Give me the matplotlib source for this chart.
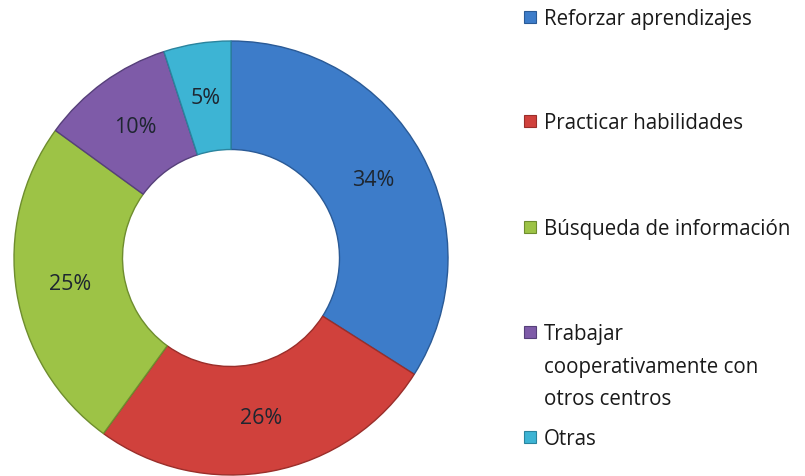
import numpy as np
import matplotlib
matplotlib.use("Agg")
import matplotlib.pyplot as plt
from matplotlib.patches import Rectangle

# data
categories = ["Reforzar aprendizajes", "Practicar habilidades", "Búsqueda de información",
              "Trabajar\ncooperativamente con\notros centros", "Otras"]
values = [34, 26, 25, 10, 5]
colors = ["#3D7CC9", "#D0413C", "#9DC346", "#7E5BA8", "#3DB4D4"]
edges = ["#2A5A96", "#9A2E2A", "#6E8D2E", "#56407A", "#2A849E"]

W, H = 805, 477
plt.rcParams['font.family'] = ['Open Sans', 'DejaVu Sans']

fig = plt.figure(figsize=(W / 100, H / 100), dpi=100)
fig.patch.set_facecolor("white")

# donut: centre (231, 259) px from top-left, outer radius 217 px
cx, cy, r = 231, 259, 217
ax = fig.add_axes([(cx - r) / W, (H - cy - r) / H, 2 * r / W, 2 * r / H])

wedges, texts, autotexts = ax.pie(
    values, colors=colors, startangle=90, counterclock=False, radius=1,
    autopct=lambda p: f"{p:.0f}%", pctdistance=0.75,
    wedgeprops=dict(width=0.5, linewidth=1.0),
    textprops=dict(fontsize=15.5, color="#1E2630"))
for w, ec in zip(wedges, edges):
    w.set_edgecolor(ec)
ax.set_xlim(-1, 1)
ax.set_ylim(-1, 1)
ax.set_aspect("equal")
ax.axis("off")

# legend drawn by hand to match spacing
leg_y = [18, 122, 228, 333, 438]
for lab, col, ec, y in zip(categories, colors, edges, leg_y):
    fig.patches.append(Rectangle((524 / W, 1 - (y + 6) / H), 12 / W, 12 / H,
                                 transform=fig.transFigure, facecolor=col,
                                 edgecolor=ec, linewidth=0.8))
    fig.text(544 / W, 1 - (y - 9) / H, lab, fontsize=14.8, color="#1A1A1A",
             va="top", ha="left", linespacing=1.72)

fig.savefig("out.png", dpi=100, facecolor="white")
